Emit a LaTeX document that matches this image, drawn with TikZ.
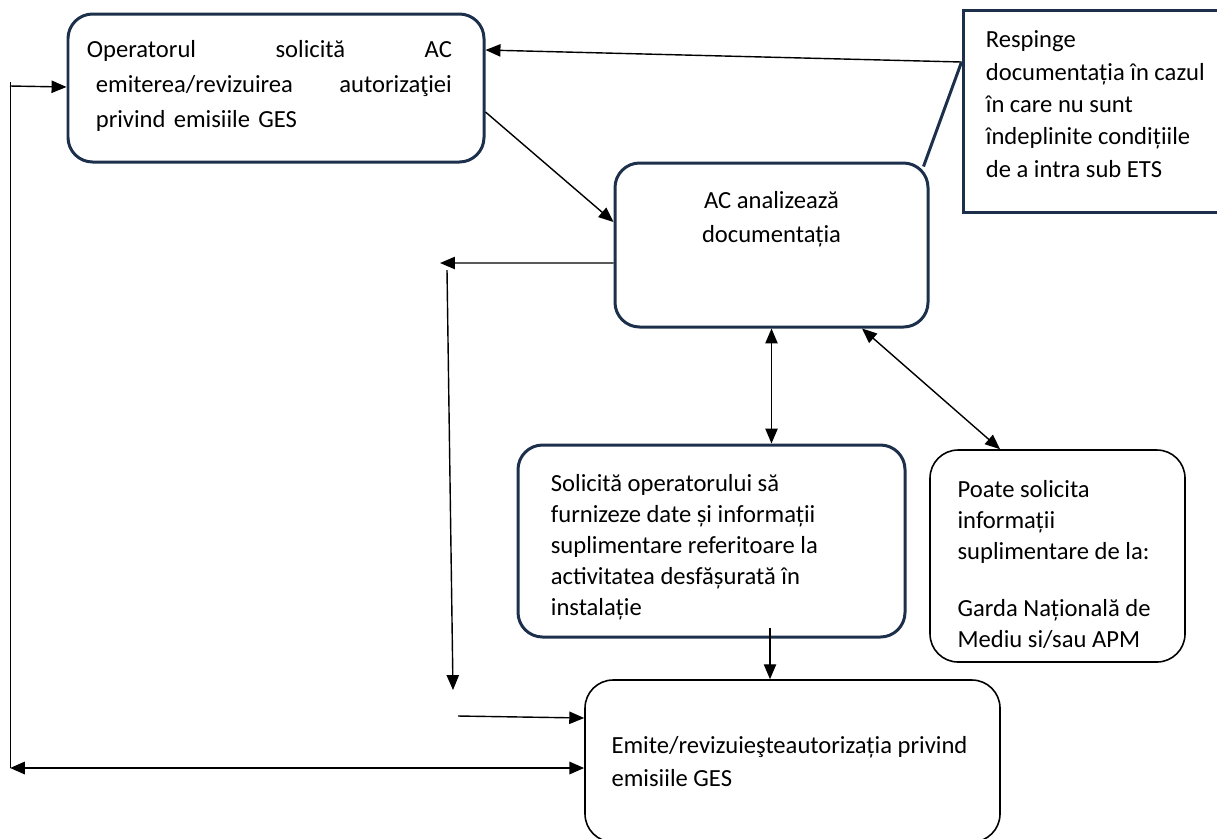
\documentclass[tikz,border=0pt]{standalone}
\usepackage{fontspec}
\setmainfont{Carlito}
\usepackage{xcolor}
\usetikzlibrary{arrows.meta, positioning}
\definecolor{boxnavy}{RGB}{28,48,76}

\begin{document}
\begin{tikzpicture}[
    % Styles
    box/.style={
        rectangle,
        rounded corners=14pt,
        draw=boxnavy,
        line width=1.7pt,
        inner sep=0pt
    },
    thinbox/.style={box, rounded corners=16pt, draw=black, line width=0.9pt},
    sqbox/.style={box, sharp corners},
    txt/.style={
        inner sep=0pt,
        anchor=north west,
        align=left,
        font=\fontsize{14}{19}\selectfont
    },
    arrow/.style={
        -{Triangle[length=8.5pt,width=7pt]},
        line width=0.8pt
    },
    darrow/.style={
        {Triangle[length=8.5pt,width=7pt]}-{Triangle[length=8.5pt,width=7pt]},
        line width=0.8pt
    }
]
\useasboundingbox (0,0) rectangle (24.34,-16.76);

% Boxes
\node[box, minimum width=8.32cm, minimum height=2.96cm] (op) at (5.52,-1.76) {};
\node[sqbox, minimum width=5.18cm, minimum height=4.04cm] (resp) at (21.85,-2.22) {};
\node[box, minimum width=6.26cm, minimum height=3.28cm] (ac) at (15.43,-4.9) {};
\node[box, minimum width=7.74cm, minimum height=3.84cm] (sol) at (14.23,-10.82) {};
\node[thinbox, minimum width=5.10cm, minimum height=4.24cm] (poate) at (21.15,-11.12) {};
\node[thinbox, minimum width=8.30cm, minimum height=3.24cm] (emite) at (15.85,-15.22) {};

% Texts
\node[txt, text width=7.3cm, font=\fontsize{14}{19.8}\selectfont] (optext) at ([xshift=0.4cm,yshift=-0.56cm]op.north west) {
    Operatorul\hfill solicită\hfill AC\\
    \hspace*{0.18cm}emiterea/revizuirea\hfill autorizaţiei\\
    \hspace*{0.18cm}privind emisiile GES
};
\node[txt, font=\fontsize{14}{18.4}\selectfont] (resptext) at ([xshift=0.48cm,yshift=-0.44cm]resp.north west) {
    Respinge\\
    documentația în cazul\\
    în care nu sunt\\
    îndeplinite condițiile\\
    de a intra sub ETS
};
\node[txt, anchor=north, align=center] (actext) at ([yshift=-0.6cm]ac.north) {
    AC analizează\\
    documentația
};
\node[txt, font=\fontsize{14}{17.6}\selectfont] (soltext) at ([xshift=0.68cm,yshift=-0.62cm]sol.north west) {
    Solicită operatorului să\\
    furnizeze date și informații\\
    suplimentare referitoare la\\
    activitatea desfășurată în\\
    instalație
};
\node[txt, font=\fontsize{14}{17.6}\selectfont] (poatetext) at ([xshift=0.56cm,yshift=-0.62cm]poate.north west) {
    Poate solicita\\
    informații\\
    suplimentare de la:\\[0.52cm]
    Garda Națională de\\
    Mediu si/sau APM
};
\node[txt, font=\fontsize{14}{18.5}\selectfont] (emitetext) at ([xshift=0.54cm,yshift=-1.14cm]emite.north west) {
    Emite/revizuieşteautorizația privind\\
    emisiile GES
};

% Free ends
\coordinate (loopT) at (0.2,-1.72);
\coordinate (loopB) at (0.2,-15.36);
\coordinate (retL) at (8.8,-5.26);
\coordinate (retT) at (8.94,-5.4);
\coordinate (retB) at (9.06,-13.8);
\coordinate (retE) at (9.16,-14.32);
\coordinate (solout) at (15.4,-12.56);

% Arrows
\draw[arrow] ([yshift=0.98cm]resp.west) -- ([yshift=0.76cm]op.east);
\draw[boxnavy, line width=1.7pt] ([xshift=-0.12cm,yshift=-0.1cm]ac.north east) -- ([yshift=0.98cm]resp.west);
\draw[arrow] ([yshift=-0.48cm]op.east) -- ([yshift=0.46cm]ac.west);
\draw[arrow] ([yshift=-0.36cm]ac.west) -- (retL);
\draw[arrow] (retT) -- (retB);
\draw[arrow] (retE) -- ([yshift=0.86cm]emite.west);
\draw[darrow] (ac.south) -- (ac.south |- sol.north);
\draw[darrow] ([xshift=1.81cm]ac.south) -- ([xshift=-1.15cm]poate.north);
\draw[arrow] (solout) -- (solout |- emite.north);
\draw (loopB) -- ([yshift=0.08cm]loopT);
\draw[arrow] (loopT) -- ([yshift=0.02cm]op.west);
\draw[darrow, line width=1.4pt] (loopB) -- ([yshift=-0.14cm]emite.west);

\end{tikzpicture}
\end{document}
